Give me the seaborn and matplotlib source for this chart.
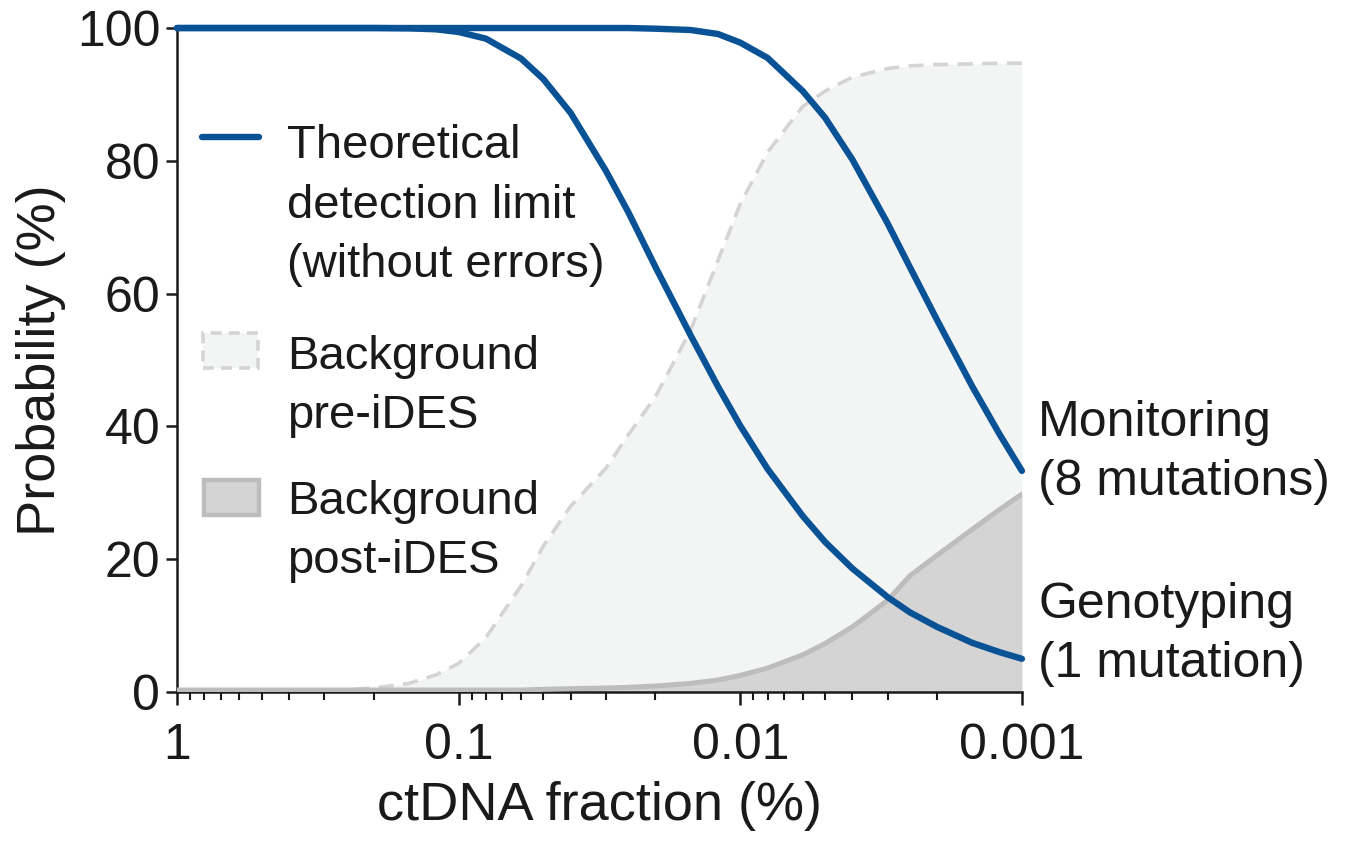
import numpy as np
import pandas as pd
import matplotlib
matplotlib.use("Agg")
import matplotlib.pyplot as plt
import seaborn as sns
from matplotlib.lines import Line2D
from matplotlib.patches import Rectangle
from matplotlib.ticker import LogLocator, NullFormatter

# values (ctDNA fraction in %, probability in %)
fraction = [1, 0.8, 0.6, 0.5, 0.4, 0.3, 0.25, 0.2, 0.15, 0.12, 0.1,
            0.08, 0.06, 0.05, 0.04, 0.03, 0.025, 0.02, 0.015, 0.012, 0.01,
            0.008, 0.006, 0.005, 0.004, 0.003, 0.0025, 0.002, 0.0015, 0.0012, 0.001]
genotyping = [100, 100, 100, 100, 100, 100, 100, 100, 99.95, 99.8, 99.4,
              98.4, 95.4, 92.3, 87.2, 78.5, 72.3, 64.0, 53.7, 46.0, 40.1,
              33.6, 26.5, 22.6, 18.6, 14.3, 12.0, 9.8, 7.4, 6.0, 5.0]
monitoring = [100, 100, 100, 100, 100, 100, 100, 100, 100, 100, 100,
              100, 100, 100, 100, 100, 100, 99.9, 99.7, 99.1, 97.8,
              95.5, 90.5, 86.5, 80.2, 70.6, 64.0, 56.0, 46.0, 38.8, 33.3]
pre_ides = [0, 0, 0, 0, 0.05, 0.2, 0.35, 0.6, 1.3, 2.6, 4.3,
            8.2, 16.0, 22.0, 28.0, 33.7, 38.7, 44.5, 54.5, 65.0, 73.5,
            81.3, 88.2, 90.5, 92.6, 93.9, 94.3, 94.5, 94.6, 94.7, 94.7]
post_ides = [0.3, 0.3, 0.3, 0.3, 0.3, 0.3, 0.3, 0.3, 0.3, 0.3, 0.3,
             0.3, 0.3, 0.4, 0.5, 0.6, 0.7, 0.9, 1.3, 1.8, 2.5,
             3.6, 5.6, 7.3, 9.8, 13.8, 17.5, 20.6, 24.5, 27.5, 29.8]

xticks = [1, 0.1, 0.01, 0.001]
xtick_labels = ['1', '0.1', '0.01', '0.001']
yticks = [0, 20, 40, 60, 80, 100]

legend_labels = ['Theoretical\ndetection limit\n(without errors)',
                 'Background\npre-iDES',
                 'Background\npost-iDES']
curve_labels = ['Monitoring\n(8 mutations)', 'Genotyping\n(1 mutation)']

blue = '#0a5296'
ink = '#1a1a1a'
pre_fill, pre_edge = '#f3f4f4', '#d4d4d4'
post_fill, post_edge = '#d4d4d4', '#bdbdbd'

sns.set_theme(style='ticks')
plt.rcParams['font.family'] = ['Liberation Sans', 'DejaVu Sans']
plt.rcParams['text.color'] = ink

df = pd.DataFrame({'fraction': fraction, 'genotyping': genotyping,
                   'monitoring': monitoring, 'pre': pre_ides, 'post': post_ides})

fig = plt.figure(figsize=(13.53, 8.44), dpi=100)
ax = fig.add_axes([0.1308, 0.1801, 0.6245, 0.7867])

# background areas
ax.fill_between(df['fraction'], 0, df['pre'], color=pre_fill, lw=0, zorder=1)
ax.fill_between(df['fraction'], 0, df['post'], color=post_fill, lw=0, zorder=2)
sns.lineplot(data=df, x='fraction', y='pre', ax=ax, color=pre_edge, lw=2.6,
             linestyle=(0, (4.2, 2.6)), zorder=3)
sns.lineplot(data=df, x='fraction', y='post', ax=ax, color=post_edge, lw=3.6,
             zorder=3)

# theoretical detection limits
for col in ['monitoring', 'genotyping']:
    sns.lineplot(data=df, x='fraction', y=col, ax=ax, color=blue, lw=4.6,
                 solid_capstyle='round', clip_on=False, zorder=5)

ax.set_xscale('log')
ax.set_xlim(1, 0.001)
ax.set_ylim(0, 100)
ax.set_xticks(xticks)
ax.set_xticklabels(xtick_labels)
ax.xaxis.set_minor_locator(LogLocator(base=10, subs=np.arange(2, 10)))
ax.xaxis.set_minor_formatter(NullFormatter())
ax.set_yticks(yticks)
ax.set_yticklabels([str(v) for v in yticks])

sns.despine(ax=ax)
for side in ['left', 'bottom']:
    ax.spines[side].set_linewidth(1.8)
    ax.spines[side].set_color(ink)
ax.tick_params(which='major', length=9, width=1.8, color=ink, labelsize=36,
               labelcolor=ink)
ax.tick_params(axis='x', which='major', pad=13)
ax.tick_params(axis='y', which='major', length=8, pad=4)
ax.tick_params(axis='x', which='minor', length=6, width=1.5, color=ink)

ax.set_xlabel('ctDNA fraction (%)', fontsize=39, color=ink, labelpad=9)
ax.set_ylabel('Probability (%)', fontsize=39, color=ink, labelpad=8)

# legend, handles aligned with the first text line
fig.add_artist(Line2D([0.1493, 0.1914], [0.8377, 0.8377], color=blue, lw=4.6,
                      solid_capstyle='round', transform=fig.transFigure))
fig.add_artist(Rectangle((0.1500, 0.5640), 0.0407, 0.0415, facecolor=pre_fill,
                         edgecolor=pre_edge, lw=2.6, linestyle=(0, (3, 2)),
                         transform=fig.transFigure))
fig.add_artist(Rectangle((0.1508, 0.3898), 0.0407, 0.0415, facecolor=post_fill,
                         edgecolor=post_edge, lw=3.2,
                         transform=fig.transFigure))
# baseline of the last line of each label
for label, y in zip(legend_labels, [0.6718, 0.4929, 0.3211]):
    fig.text(0.2121, y, label, fontsize=34, va='baseline', ha='left',
             linespacing=1.45, color=ink)

# curve labels at the right end
for label, y in zip(curve_labels, [0.4135, 0.1979]):
    fig.text(0.7672, y, label, fontsize=36, va='baseline', ha='left',
             linespacing=1.35, color=ink)

fig.savefig('out.png', dpi=100)
